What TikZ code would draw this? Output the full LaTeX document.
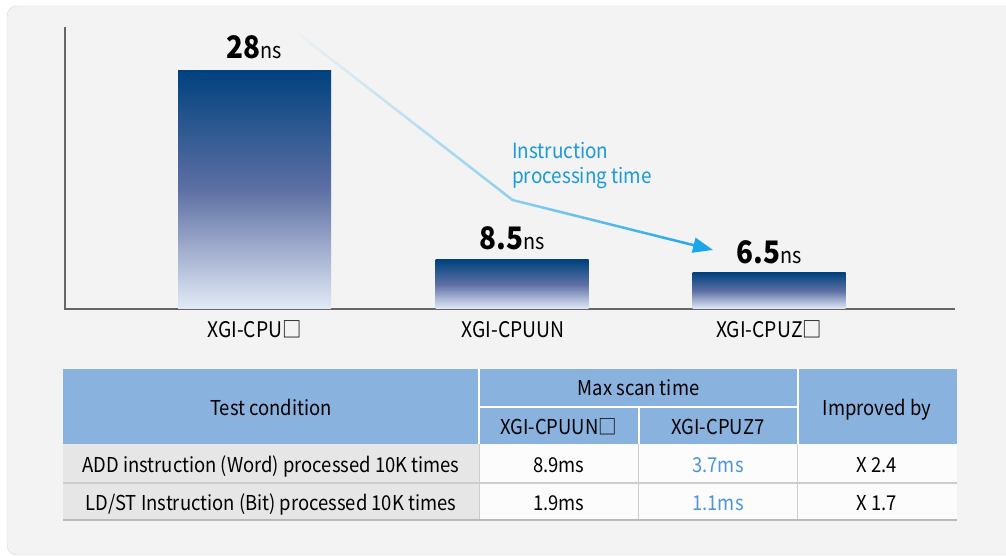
\documentclass[tikz,border=0pt]{standalone}
\usepackage{fontspec}
\setmainfont{Noto Sans CJK KR}[FakeStretch=0.9]
\usepackage{tikz}
\usetikzlibrary{arrows.meta}
\usetikzlibrary{positioning,calc}
\definecolor{panelgray}{HTML}{F3F3F3}
\definecolor{panelline}{HTML}{D6D6D6}
\definecolor{axisgray}{HTML}{666666}
\definecolor{bartop}{HTML}{00427F}
\definecolor{barmid}{HTML}{5E70A4}
\definecolor{barbottom}{HTML}{E2EAF7}
\definecolor{arrowblue}{HTML}{1AA6EA}
\definecolor{notetext}{HTML}{1A9AD6}
\definecolor{headblue}{HTML}{8AB2DF}
\definecolor{bodygray}{HTML}{E6E6E6}
\definecolor{rulegray}{HTML}{CDCDCD}
\definecolor{numblue}{HTML}{4D94DB}
\tikzset{
    bar/.style={
        top color=bartop,
        bottom color=barbottom,
        middle color=barmid,
        minimum width=153pt,
        inner sep=0pt,
        anchor=south
    },
    val/.style={
        anchor=base,
        inner sep=0pt
    },
    cat/.style={
        anchor=base,
        inner sep=0pt,
        font=\fontsize{21.5}{24}\selectfont
    },
    cell/.style={
        anchor=base,
        inner sep=0pt,
        font=\fontsize{20.5}{24}\selectfont
    }
}
\newcommand{\bignum}[1]{{\fontsize{31}{31}\selectfont\bfseries #1}{\fontsize{22}{22}\selectfont ns}}

\begin{document}
\begin{tikzpicture}[x=1pt, y=-1pt]
  \useasboundingbox (0,0) rectangle (1006,556);
  \fill[white] (0,0) rectangle (1006,556);

  % Panel
  \draw[panelline, fill=panelgray, rounded corners=10pt] (7,6) rectangle (1030,555);

  % Axes
  \draw[axisgray, line width=1.5pt] (65,27) -- (65,309) -- (955,309);

  % Bars
  \node[bar, minimum height=238pt] (b1) at (254.5,309) {};
  \node[bar, minimum height=49pt] (b2) at (512,309) {};
  \node[bar, minimum height=36pt] (b3) at (769,309) {};

  % Values above the bars
  \node[val] (v1) at ([yshift=12pt]b1.north) {\bignum{28}};
  \node[val] (v2) at ([yshift=10pt]b2.north) {\bignum{8.5}};
  \node[val] (v3) at ([yshift=9pt]b3.north) {\bignum{6.5}};

  % Categories
  \node[cat] (c1) at (254.5,337) {XGI-CPU□};
  \node[cat] (c2) at (513,337) {XGI-CPUUN};
  \node[cat] (c3) at (769,337) {XGI-CPUZ□};

  % Processing time arrow
  \coordinate (a0) at (300,35);
  \coordinate (a1) at (512.5,200);
  \coordinate (a2) at (713,250);
  \foreach \i [evaluate=\i as \s using (\i-1)/20,
               evaluate=\i as \e using \i/20,
               evaluate=\i as \c using 2+43*\i/20] in {1,...,20}
    \draw[arrowblue!\c!panelgray, line width=2.5pt, line cap=round]
      ($(a0)!\s!(a1)$) -- ($(a0)!\e!(a1)$);
  \foreach \i [evaluate=\i as \s using (\i-1)/20,
               evaluate=\i as \e using \i/20,
               evaluate=\i as \c using 45+55*\i/20] in {1,...,18}
    \draw[arrowblue!\c!panelgray, line width=2.5pt, line cap=round]
      ($(a1)!\s!(a2)$) -- ($(a1)!\e!(a2)$);
  \draw[arrowblue, line width=2.5pt, -{Triangle[length=20pt, width=15pt]}]
    ($(a1)!0.9!(a2)$) -- (a2);
  \node[notetext, anchor=north west, align=left, inner sep=0pt,
        font=\fontsize{21}{25}\selectfont] (note) at (512,142)
    {Instruction\\processing time};

  % Table fills
  \fill[headblue] (63,369) rectangle (957,444);
  \fill[bodygray] (63,444) rectangle (479,520);
  \fill[white!99!black] (479,444) rectangle (957,520);

  % Table rules
  \draw[white, line width=2pt] (479,369) -- (479,444);
  \draw[white, line width=2pt] (797.5,369) -- (797.5,444);
  \draw[white, line width=2pt] (638.5,407) -- (638.5,444);
  \draw[white, line width=2pt] (479,407) -- (797.5,407);
  \draw[rulegray, line width=1pt] (479,444) -- (479,520);
  \draw[rulegray, line width=1pt] (638.5,444) -- (638.5,520);
  \draw[rulegray, line width=1pt] (797.5,444) -- (797.5,520);
  \draw[rulegray, line width=1.2pt] (63,483) -- (957,483);
  \draw[rulegray!90!black, line width=2pt] (63,520) -- (957,520);

  % Header
  \node[cell] (h1) at (271,415) {Test condition};
  \node[cell] (h2) at (638.5,395.5) {Max scan time};
  \node[cell] (h3) at (877,415) {Improved by};
  \node[cell] (h21) at (558.75,434) {XGI-CPUUN□};
  \node[cell] (h22) at (718,434) {XGI-CPUZ7};

  % Rows
  \node[cell] (r1) at (271,472.3) {ADD instruction (Word) processed 10K times};
  \node[cell] (r11) at (558.75,472.3) {8.9ms};
  \node[cell, numblue] (r12) at (718,472.3) {3.7ms};
  \node[cell] (r13) at (877,472.3) {X 2.4};
  \node[cell] (r2) at (271,510) {LD/ST Instruction (Bit) processed 10K times};
  \node[cell] (r21) at (558.75,510) {1.9ms};
  \node[cell, numblue] (r22) at (718,510) {1.1ms};
  \node[cell] (r23) at (877,510) {X 1.7};
\end{tikzpicture}
\end{document}
